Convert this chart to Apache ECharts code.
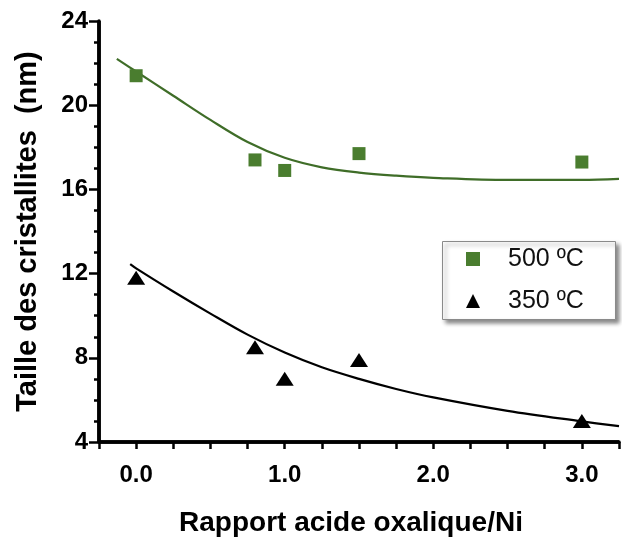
<!DOCTYPE html>
<html>
<head>
<meta charset="utf-8">
<script src="https://cdn.jsdelivr.net/npm/echarts@6/dist/echarts.min.js"></script>
<style>html,body{margin:0;padding:0;background:#fff;}#c{width:622px;height:542px;}</style>
</head>
<body>
<div id="c"></div>
<script>
// Measured points
const ratioX = [0.0, 0.8, 1.0, 1.5, 3.0];
const size500 = [21.4, 17.4, 16.9, 17.7, 17.3];
const size350 = [11.8, 8.5, 7.0, 7.9, 5.0];
// Fitted curves
const fit500X = [-0.13, 0.0, 0.25, 0.5, 0.75, 1.0, 1.25, 1.5, 1.75, 2.0, 2.5, 3.0, 3.25];
const fit500Y = [22.2, 21.6, 20.45, 19.3, 18.25, 17.5, 17.05, 16.8, 16.65, 16.55, 16.45, 16.45, 16.5];
const fit350X = [-0.04, 0.0, 0.25, 0.5, 0.75, 1.0, 1.25, 1.5, 1.75, 2.0, 2.5, 3.0, 3.25];
const fit350Y = [12.45, 12.25, 11.15, 10.1, 9.1, 8.25, 7.55, 7.0, 6.52, 6.12, 5.48, 4.98, 4.75];
const xTickLabels = ['0.0', '1.0', '2.0', '3.0'];
const yTicks = [4, 8, 12, 16, 20, 24];
const seriesNames = ['500 ºC', '350 ºC'];
const xRange = [-0.25, 3.25];
const yRange = [4, 24];

const pair = (xs, ys) => xs.map((x, i) => [x, ys[i]]);
const green = '#4a7d2f';
const greenLine = '#3f6d28';
const FONT = '"Liberation Sans", Arial, sans-serif';

const chart = echarts.init(document.getElementById('c'), null, {renderer: 'canvas'});
chart.setOption({
  animation: false,
  backgroundColor: '#ffffff',
  grid: {left: 99, right: -7, top: 21, bottom: 95, containLabel: false},
  graphic: [{
    type: 'rect', left: 442, top: 241, z: 100,
    shape: {width: 173, height: 78},
    style: {fill: '#ffffff', stroke: '#8a8a8a', lineWidth: 1,
      shadowBlur: 4, shadowColor: 'rgba(0,0,0,0.45)', shadowOffsetX: 3, shadowOffsetY: 3}
  }],
  legend: {
    z: 101,
    orient: 'vertical', left: 442, top: 241,
    padding: [4, 20, 4, 24],
    itemGap: 14,
    itemWidth: 14, itemHeight: 14,
    data: [{name: seriesNames[0], icon: 'rect', itemStyle: {color: green, opacity: 1}},
           {name: seriesNames[1], icon: 'triangle', itemStyle: {color: '#000', opacity: 1}}],
    textStyle: {fontFamily: FONT, fontSize: 25, color: '#111', lineHeight: 28, padding: [0, 0, 0, 23]}
  },
  xAxis: {
    type: 'value', min: xRange[0], max: xRange[1], interval: 0.25,
    axisLine: {show: true, onZero: false, lineStyle: {color: '#000', width: 3.5}},
    axisTick: {show: true, length: 7, lineStyle: {color: '#000', width: 2.5}},
    splitLine: {show: false},
    axisLabel: {
      margin: 21, fontFamily: FONT, fontWeight: 'bold', fontSize: 24, color: '#000',
      formatter: function (v) {
        const r = Math.round(v);
        if (Math.abs(v - r) < 1e-6 && r >= 0 && r < xTickLabels.length) return xTickLabels[r];
        return '';
      }
    },
    name: 'Rapport acide oxalique/Ni', nameLocation: 'middle', nameGap: 67,
    nameTextStyle: {fontFamily: FONT, fontWeight: 'bold', fontSize: 28, color: '#000', padding: [0, 16, 0, 0]}
  },
  yAxis: {
    type: 'value', min: yRange[0], max: yRange[1], interval: 4,
    axisLine: {show: true, onZero: false, lineStyle: {color: '#000', width: 3.5}},
    axisTick: {show: true, length: 10, lineStyle: {color: '#000', width: 2.5}},
    minorTick: {show: true, splitNumber: 4, length: 5, lineStyle: {color: '#000', width: 2.5}},
    splitLine: {show: false},
    axisLabel: {
      margin: 11, fontFamily: FONT, fontWeight: 'bold', fontSize: 24, color: '#000',
      formatter: function (v) { return yTicks.indexOf(v) >= 0 ? String(v) : ''; }
    },
    name: 'Taille des cristallites  (nm)', nameLocation: 'middle', nameGap: 57,
    nameTextStyle: {fontFamily: FONT, fontWeight: 'bold', fontSize: 29, color: '#000'}
  },
  series: [
    {
      name: 'axisFrameY', type: 'line', data: [[xRange[0], yRange[0]], [xRange[0], yRange[1]]],
      showSymbol: false, clip: false, silent: true, z: 1,
      lineStyle: {color: '#000', width: 3.5}
    },
    {
      name: 'axisFrameX', type: 'line', data: [[xRange[0], yRange[0]], [xRange[1], yRange[0]]],
      showSymbol: false, clip: false, silent: true, z: 1,
      lineStyle: {color: '#000', width: 3.5}
    },
    {
      name: 'fit500', type: 'line', data: pair(fit500X, fit500Y), smooth: 0.35,
      showSymbol: false, lineStyle: {color: greenLine, width: 2.2}, z: 2, silent: true
    },
    {
      name: 'fit350', type: 'line', data: pair(fit350X, fit350Y), smooth: 0.35,
      showSymbol: false, lineStyle: {color: '#000', width: 2.2}, z: 2, silent: true
    },
    {
      name: seriesNames[0], type: 'scatter', data: pair(ratioX, size500),
      symbol: 'rect', symbolSize: 13, itemStyle: {color: green, opacity: 1}, z: 3
    },
    {
      name: seriesNames[1], type: 'scatter', data: pair(ratioX, size350),
      symbol: 'triangle', symbolSize: [18, 14], itemStyle: {color: '#000', opacity: 1}, z: 3
    }
  ]
});
</script>
</body>
</html>
